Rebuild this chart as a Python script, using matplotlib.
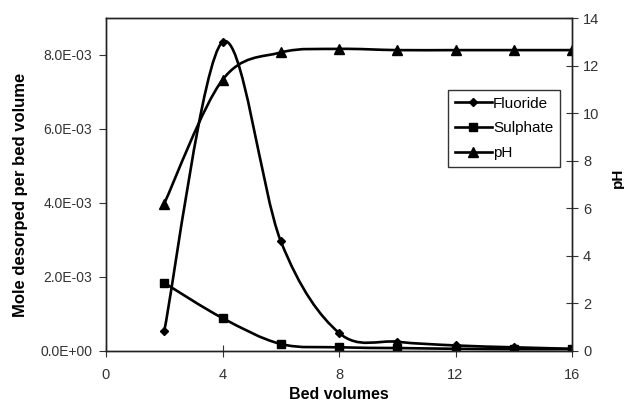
import numpy as np
import matplotlib
matplotlib.use('Agg')
import matplotlib.pyplot as plt
from matplotlib.path import Path
from matplotlib.patches import PathPatch

plt.rcParams['font.family'] = ['Liberation Sans', 'DejaVu Sans']

bed_volumes = [2, 4, 6, 8, 10, 12, 14, 16]
fluoride = [0.54e-3, 8.35e-3, 2.97e-3, 0.49e-3, 0.25e-3, 0.15e-3, 0.1e-3, 0.06e-3]
sulphate = [1.84e-3, 0.89e-3, 0.19e-3, 0.1e-3, 0.08e-3, 0.06e-3, 0.05e-3, 0.05e-3]
ph = [6.2, 11.4, 12.55, 12.7, 12.65, 12.65, 12.65, 12.65]


def smooth_path(x, y, t=0.5):
    # Excel-like smoothed line: cubic bezier through the points
    x = np.asarray(x, float)
    y = np.asarray(y, float)
    verts = [(x[0], y[0])]
    codes = [Path.MOVETO]
    n = len(x)
    for i in range(n - 1):
        p0 = (x[i - 1], y[i - 1]) if i > 0 else (x[i], y[i])
        p1 = (x[i], y[i])
        p2 = (x[i + 1], y[i + 1])
        p3 = (x[i + 2], y[i + 2]) if i + 2 < n else (x[i + 1], y[i + 1])
        c1 = (p1[0] + (p2[0] - p0[0]) * t / 3, p1[1] + (p2[1] - p0[1]) * t / 3)
        c2 = (p2[0] - (p3[0] - p1[0]) * t / 3, p2[1] - (p3[1] - p1[1]) * t / 3)
        verts += [c1, c2, p2]
        codes += [Path.CURVE4] * 3
    return Path(verts, codes)


fig = plt.figure(figsize=(6.24, 4.01), dpi=100)
ax = fig.add_axes([106 / 624, 50 / 401, 466 / 624, 333 / 401])
ax2 = ax.twinx()

for ys, a in [(fluoride, ax), (sulphate, ax), (ph, ax2)]:
    a.add_patch(PathPatch(smooth_path(bed_volumes, ys), fill=False, lw=1.9,
                          edgecolor='black'))

ax.plot(bed_volumes, fluoride, ls='none', marker='D', ms=4.5, color='black')
ax.plot(bed_volumes, sulphate, ls='none', marker='s', ms=5.5, color='black')
ax2.plot(bed_volumes, ph, ls='none', marker='^', ms=6.5, color='black')

# legend handles
h1, = ax.plot([], [], '-D', color='black', ms=4.5, lw=1.9, label='Fluoride')
h2, = ax.plot([], [], '-s', color='black', ms=5.5, lw=1.9, label='Sulphate')
h3, = ax.plot([], [], '-^', color='black', ms=6.5, lw=1.9, label='pH')

ax.set_xlim(0, 16)
ax.set_ylim(0, 9e-3)
ax2.set_ylim(0, 14)
ax.set_xticks([0, 4, 8, 12, 16])
ax.set_yticks([0, 2e-3, 4e-3, 6e-3, 8e-3])
ax.set_yticklabels(['0.0E+00', '2.0E-03', '4.0E-03', '6.0E-03', '8.0E-03'])
ax2.set_yticks(range(0, 15, 2))

for a in (ax, ax2):
    for s in a.spines.values():
        s.set_linewidth(1.0)
        s.set_color('#222222')
ax.tick_params(axis='x', direction='inout', length=9, labelsize=10.5, colors='#333333', pad=8)
ax.tick_params(axis='y', direction='out', length=5, labelsize=10, colors='#333333', pad=5)
ax2.tick_params(axis='y', direction='inout', length=9, labelsize=10.5, colors='#333333')

ax.set_xlabel('Bed volumes', fontsize=11.5, fontweight='bold', labelpad=3)
ax.set_ylabel('Mole desorped per bed volume', fontsize=12, fontweight='bold')
ax.yaxis.set_label_coords(-0.168, 0.47)
ax2.set_ylabel('pH', fontsize=11, fontweight='bold')
ax2.yaxis.set_label_coords(1.083, 0.52)

leg = ax.legend(handles=[h1, h2, h3], loc='upper left', bbox_to_anchor=(0.734, 0.784),
                frameon=True, fancybox=False, fontsize=11, handlelength=2.4,
                handletextpad=0.1, borderpad=0.45, labelspacing=0.7, borderaxespad=0)
leg.get_frame().set_edgecolor('black')
leg.get_frame().set_linewidth(1.0)

fig.savefig('out.png', dpi=100)
